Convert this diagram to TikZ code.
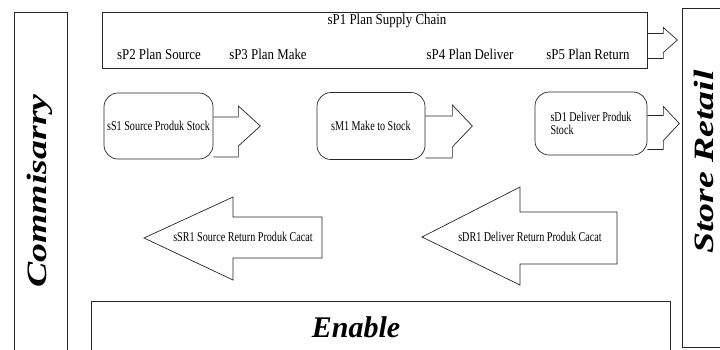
\documentclass[tikz,border=0pt]{standalone}
\usepackage{fontspec}
\setmainfont{Liberation Serif}
\newfontfamily\boxfont[FakeStretch=0.75]{Liberation Serif}
\newfontfamily\planfont[FakeStretch=0.86]{Liberation Serif}
\newfontfamily\sidefont[FakeStretch=1.35]{Liberation Serif}
\begin{document}
\begin{tikzpicture}[x=1pt, y=-1pt,
    line/.style={draw=black!85, line width=0.7pt},
    process/.style={line, rounded corners=14pt, minimum height=66pt, inner sep=2pt},
    blockarrow/.style={line, line join=miter},
    smalltext/.style={font=\boxfont\fontsize{13.5}{13.5}\selectfont},
    plantext/.style={font=\planfont\fontsize{15}{15}\selectfont},
    sidetext/.style={font=\sidefont\bfseries\itshape\fontsize{28}{28}\selectfont, rotate=90}]
    % block arrow: anchor, head start, tip, half body, half head
    \def\rarrow#1#2#3#4#5{\draw[blockarrow] (#1) ++(0,-#4) -- ++(#2,0) -- ++(0,{-(#5-#4)})
      -- ++({#3-#2},#5) -- ++({#2-#3},#5) -- ++(0,{#5-#4}) -- ++(-#2,0);}
    \useasboundingbox (0,0) rectangle (720,349);
    % side partners
    \draw[line] (14,352) -- (14,12) -- (67,12) -- (67,352);
    \node[sidetext] (comm) at (40,191) {Commisarry};
    \draw[line] (723,8) -- (682,8) -- (682,347) -- (723,347);
    \node[sidetext] (store) at (704,162) {Store Retail};
    % plan
    \node[line, minimum width=545pt, minimum height=56pt] (plan) at (374.5,40) {};
    \node[plantext] (sP1) at (387,21) {sP1 Plan Supply Chain};
    \node[plantext] (sP2) at (159,54) {sP2 Plan Source};
    \node[plantext] (sP3) at (268,54) {sP3 Plan Make};
    \node[plantext] (sP4) at (470,54) {sP4 Plan Deliver};
    \node[plantext] (sP5) at (588,54) {sP5 Plan Return};
    \rarrow{plan.east}{16}{30}{6.5}{12.5}
    % source, make, deliver
    \node[process, smalltext, minimum width=109pt] (sS1) at (158.5,126) {sS1 Source Produk Stock};
    \node[process, smalltext, minimum width=108pt, minimum height=67pt] (sM1) at (371,126) {sM1 Make to Stock};
    \node[process, smalltext, minimum width=112pt, minimum height=63pt, align=left] (sD1) at (591,123.5) {sD1 Deliver Produk\\Stock};
    \rarrow{sS1.east}{25}{47}{9}{20}
    \rarrow{sM1.east}{27}{47}{10}{21}
    \rarrow{sD1.east}{16}{32}{8}{17}
    % return
    \draw[blockarrow] (144,238) -- (233,197) -- (233,217) -- (322,217) -- (322,258) -- (233,258) -- (233,280) -- cycle;
    \node[smalltext] (sSR1) at (243,237) {sSR1 Source Return Produk Cacat};
    \draw[blockarrow] (422,237) -- (520,187) -- (520,212) -- (617,212) -- (617,264) -- (520,264) -- (520,285) -- cycle;
    \node[smalltext] (sDR1) at (530,237) {sDR1 Deliver Return Produk Cacat};
    % enable
    \draw[line] (91,352) -- (91,301) -- (670,301) -- (670,352);
    \node[font=\bfseries\itshape\fontsize{30}{30}\selectfont] (enable) at (356,327) {Enable};
\end{tikzpicture}
\end{document}
